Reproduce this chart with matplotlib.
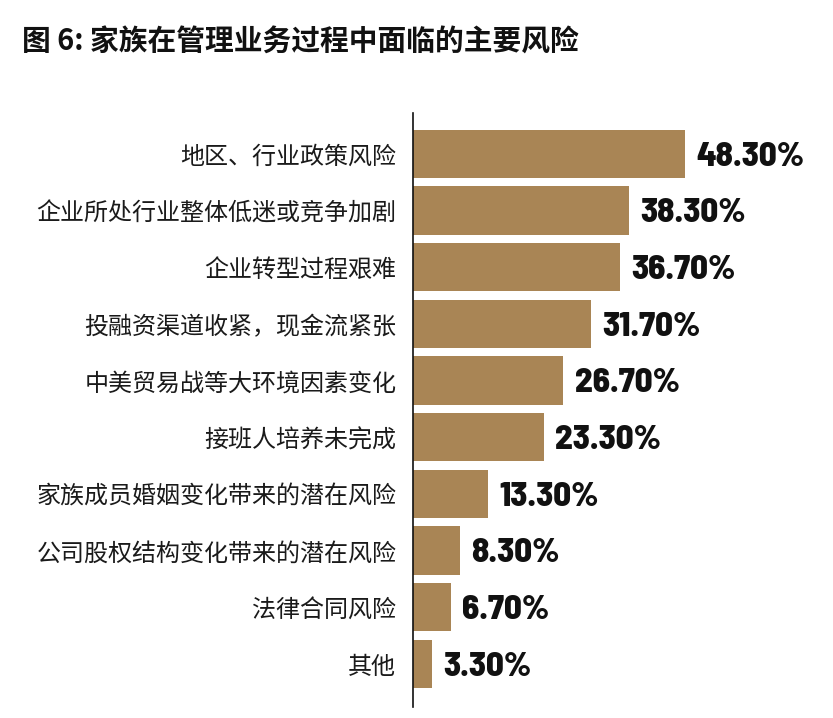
import matplotlib
matplotlib.use("Agg")
import matplotlib.pyplot as plt
from matplotlib import font_manager

plt.rcParams['font.family'] = ['Noto Sans CJK SC', 'DejaVu Sans']

categories = ["地区、行业政策风险", "企业所处行业整体低迷或竞争加剧", "企业转型过程艰难",
              "投融资渠道收紧，现金流紧张", "中美贸易战等大环境因素变化", "接班人培养未完成",
              "家族成员婚姻变化带来的潜在风险", "公司股权结构变化带来的潜在风险",
              "法律合同风险", "其他"]
values = [48.3, 38.3, 36.7, 31.7, 26.7, 23.3, 13.3, 8.3, 6.7, 3.3]
value_labels = ["48.30%", "38.30%", "36.70%", "31.70%", "26.70%", "23.30%",
                "13.30%", "8.30%", "6.70%", "3.30%"]
title = "图 6: 家族在管理业务过程中面临的主要风险"

names = {f.name for f in font_manager.fontManager.ttflist}
num_font = 'Barlow Semi Condensed' if 'Barlow Semi Condensed' in names else 'DejaVu Sans'

fig = plt.figure(figsize=(8.33, 7.18), dpi=100)
ax = fig.add_axes([0.4958, 0.0153, 0.5042, 0.8273])
bar_color = '#A98555'
y = list(range(len(categories)))
ax.barh(y, values, height=0.85, color=bar_color)
ax.set_ylim(9.76, -0.72)
ax.set_xlim(0, 74.6)
ax.set_yticks(y)
ax.set_yticklabels(categories, fontsize=17.3, color='#1a1a1a')
ax.tick_params(axis='y', length=0, pad=12)
ax.set_xticks([])
for s in ['top', 'right', 'bottom']:
    ax.spines[s].set_visible(False)
ax.spines['left'].set_linewidth(1.2)
ax.spines['left'].set_color('#111111')

for yi, v, lab in zip(y, values, value_labels):
    ax.text(v + 2.0, yi + 0.05, lab, va='center', ha='left', fontsize=25,
            fontweight=800, family=[num_font, 'DejaVu Sans'], color='#111111')

fig.text(22 / 833, 1 - 42 / 718, title, fontsize=20.7, fontweight='bold',
         va='center', ha='left', color='#111111')

fig.savefig('out.png', dpi=100)
